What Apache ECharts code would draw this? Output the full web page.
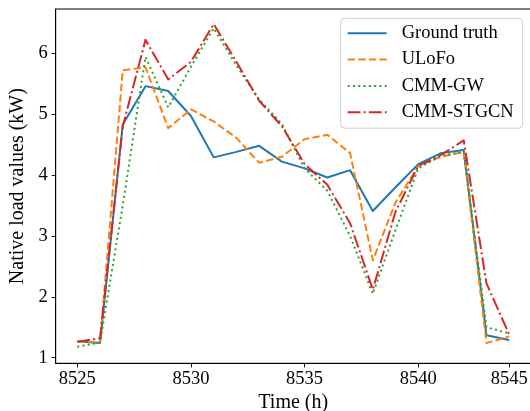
<!DOCTYPE html>
<html>
<head>
<meta charset="utf-8">
<script src="https://cdn.jsdelivr.net/npm/echarts@6/dist/echarts.min.js"></script>
<style>
html,body{margin:0;padding:0;background:#fff;}
#chart{width:530px;height:411px;}
</style>
</head>
<body>
<div id="chart"></div>
<script>
// time step index (position along the x axis)
const steps = [0, 1, 2, 3, 4, 5, 6, 7, 8, 9, 10, 11, 12, 13, 14, 15, 16, 17, 18, 19];
// x tick positions and their labels
const xTickPos = [0, 5, 10, 15, 19];
const xTickLabels = ['8525', '8530', '8535', '8540', '8545'];
const yTicks = [1, 2, 3, 4, 5, 6];

const groundTruth = [1.27, 1.24, 4.83, 5.46, 5.38, 4.97, 4.29, 4.38, 4.48, 4.22, 4.11, 3.96, 4.08, 3.41, 3.80, 4.18, 4.36, 4.41, 1.37, 1.29];
const ulofo       = [1.27, 1.24, 5.72, 5.77, 4.77, 5.08, 4.88, 4.61, 4.20, 4.30, 4.59, 4.66, 4.36, 2.60, 3.55, 4.15, 4.30, 4.38, 1.24, 1.35];
const cmmGW       = [1.18, 1.25, 3.50, 5.94, 5.11, 5.78, 6.41, 5.80, 5.24, 4.84, 4.11, 3.74, 3.00, 2.05, 3.10, 4.11, 4.32, 4.38, 1.50, 1.40];
const cmmSTGCN    = [1.26, 1.32, 4.80, 6.22, 5.57, 5.86, 6.48, 5.86, 5.22, 4.80, 4.18, 3.84, 3.21, 2.12, 3.40, 4.15, 4.33, 4.57, 2.22, 1.38];

const seriesNames = ['Ground truth', 'ULoFo', 'CMM-GW', 'CMM-STGCN'];
const seriesColors = ['#1f77b4', '#ff7f0e', '#2ca02c', '#d62728'];
const seriesDash = ['solid', [7.4, 3.2], [2, 3.3], [12.8, 3.2, 2, 3.2]];
const seriesValues = [groundTruth, ulofo, cmmGW, cmmSTGCN];

const FONT = '"Liberation Serif", "Times New Roman", serif';
const FS = 18.5;
const FS_NAME = 20;

const chart = echarts.init(document.getElementById('chart'), null, {renderer: 'canvas'});
chart.setOption({
  animation: false,
  backgroundColor: '#fff',
  textStyle: {fontFamily: FONT, color: '#000'},
  grid: {
    left: 55.7, top: 9, width: 475.1, height: 354.3,
    show: true, borderColor: '#000', borderWidth: 1, backgroundColor: 'transparent',
    outerBoundsMode: 'none', containLabel: false
  },
  legend: {
    orient: 'vertical',
    right: 7.3, top: 18.3,
    backgroundColor: 'rgba(255,255,255,0.8)',
    borderColor: '#cccccc', borderWidth: 1, borderRadius: 4,
    padding: [5, 9, 6, 6],
    itemWidth: 39, itemHeight: 14, itemGap: 6.3,
    itemStyle: {opacity: 0},
    textStyle: {fontFamily: FONT, fontSize: FS, color: '#000', lineHeight: 20, padding: [0, 0, 0, 10]},
    data: seriesNames
  },
  xAxis: {
    type: 'value', min: -0.95, max: 19.95,
    name: 'Time (h)', nameLocation: 'middle', nameGap: 27,
    nameTextStyle: {fontFamily: FONT, fontSize: FS_NAME, color: '#000'},
    axisLine: {show: true, onZero: false, lineStyle: {color: '#000', width: 1}},
    axisTick: {show: true, length: 4, inside: false, customValues: xTickPos, lineStyle: {color: '#000', width: 1}},
    axisLabel: {
      customValues: xTickPos, margin: 6,
      fontFamily: FONT, fontSize: FS, color: '#000',
      formatter: v => xTickLabels[xTickPos.indexOf(v)] || ''
    },
    splitLine: {show: false}
  },
  yAxis: {
    type: 'value', min: 0.908, max: 6.727,
    name: 'Native load values (kW)', nameLocation: 'middle', nameGap: 24,
    nameTextStyle: {fontFamily: FONT, fontSize: FS_NAME, color: '#000'},
    axisLine: {show: true, onZero: false, lineStyle: {color: '#000', width: 1}},
    axisTick: {show: true, length: 4, customValues: yTicks, lineStyle: {color: '#000', width: 1}},
    axisLabel: {customValues: yTicks, margin: 8, fontFamily: FONT, fontSize: FS, color: '#000'},
    splitLine: {show: false}
  },
  series: seriesNames.map((name, k) => ({
    name: name,
    type: 'line',
    data: steps.map((s, i) => [s, seriesValues[k][i]]),
    symbol: 'none',
    smooth: false,
    color: seriesColors[k],
    lineStyle: {color: seriesColors[k], width: 2, type: seriesDash[k], cap: 'butt', join: 'round'},
    emphasis: {disabled: true}
  }))
});
</script>
</body>
</html>
